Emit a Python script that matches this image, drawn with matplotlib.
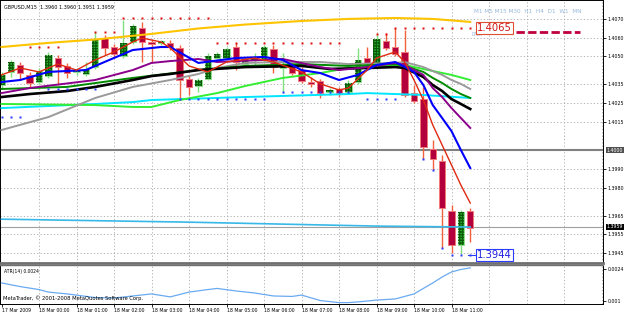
import os
import matplotlib
matplotlib.use('Agg')
import matplotlib.pyplot as plt
import matplotlib.transforms as mtransforms
from matplotlib import font_manager as fm

plt.rcParams['font.family'] = ['Liberation Sans', 'DejaVu Sans']
plt.rcParams['hatch.linewidth'] = 0.9

# ---------------- data (GBPUSD M15) ----------------
opens = [1.40347, 1.40417, 1.40454, 1.40401, 1.40363, 1.40395, 1.40491, 1.40449, 1.40417, 1.40406,
         1.40443, 1.40598, 1.40550, 1.40502, 1.40577, 1.40652, 1.40577, 1.40572, 1.40572, 1.40545,
         1.40379, 1.40342, 1.40379, 1.40491, 1.40491, 1.40550, 1.40459, 1.40481, 1.40481, 1.40540,
         1.40438, 1.40454, 1.40427, 1.40363, 1.40369, 1.40310, 1.40326, 1.40310, 1.40363, 1.40491,
         1.40465, 1.40582, 1.40550, 1.40524, 1.40304, 1.40272, 1.40005, 1.39941, 1.39674, 1.39492,
         1.39674]
highs = [1.40417, 1.40481, 1.40470, 1.40417, 1.40438, 1.40524, 1.40507, 1.40465, 1.40438, 1.40470,
         1.40630, 1.40614, 1.40566, 1.40694, 1.40673, 1.40684, 1.40588, 1.40588, 1.40588, 1.40561,
         1.40401, 1.40385, 1.40518, 1.40524, 1.40550, 1.40572, 1.40497, 1.40518, 1.40561, 1.40561,
         1.40518, 1.40470, 1.40443, 1.40390, 1.40379, 1.40331, 1.40337, 1.40374, 1.40545, 1.40550,
         1.40614, 1.40625, 1.40652, 1.40641, 1.40347, 1.40337, 1.40053, 1.39973, 1.39706, 1.39679,
         1.39690]
lows = [1.40331, 1.40390, 1.40374, 1.40331, 1.40353, 1.40385, 1.40347, 1.40385, 1.40401, 1.40395,
        1.40433, 1.40507, 1.40491, 1.40491, 1.40566, 1.40470, 1.40470, 1.40561, 1.40534, 1.40267,
        1.40294, 1.40310, 1.40374, 1.40481, 1.40481, 1.40427, 1.40449, 1.40443, 1.40470, 1.40411,
        1.40304, 1.40401, 1.40358, 1.40337, 1.40278, 1.40294, 1.40283, 1.40299, 1.40353, 1.40454,
        1.40454, 1.40534, 1.40502, 1.40283, 1.40251, 1.39952, 1.39893, 1.39476, 1.39450, 1.39444,
        1.39509]
closes = [1.40401, 1.40470, 1.40411, 1.40358, 1.40422, 1.40507, 1.40443, 1.40411, 1.40422, 1.40433,
          1.40593, 1.40545, 1.40513, 1.40572, 1.40662, 1.40577, 1.40566, 1.40582, 1.40550, 1.40374,
          1.40337, 1.40374, 1.40502, 1.40513, 1.40540, 1.40470, 1.40486, 1.40497, 1.40550, 1.40443,
          1.40454, 1.40411, 1.40369, 1.40353, 1.40304, 1.40321, 1.40304, 1.40358, 1.40481, 1.40465,
          1.40593, 1.40545, 1.40513, 1.40294, 1.40262, 1.40016, 1.39952, 1.39690, 1.39492, 1.39669,
          1.39583]

# indicator lines: (bar index, price)
gold_x = [0, 5, 10, 16, 21, 26, 32, 37, 42, 46, 50]
gold_y = [1.40550, 1.40572, 1.40590, 1.40620, 1.40649, 1.40670, 1.40689, 1.40700, 1.40705, 1.40700, 1.40684]

red_x = [0, 2, 4, 6, 8, 10, 12, 14, 15, 17, 18, 20, 22, 24, 27, 29, 32, 34, 36, 37, 39, 40, 42, 43,
         44, 45, 46, 47, 48, 49, 50]
red_y = [1.40401, 1.40438, 1.40417, 1.40459, 1.40427, 1.40481, 1.40524, 1.40577, 1.40598, 1.40577,
         1.40545, 1.40449, 1.40417, 1.40470, 1.40491, 1.40470, 1.40417, 1.40353, 1.40321, 1.40331,
         1.40427, 1.40491, 1.40524, 1.40470, 1.40374, 1.40267, 1.40134, 1.40027, 1.39920, 1.39813,
         1.39717]

blue_x = [0, 2, 5, 9, 10, 14, 17, 18, 21, 25, 28, 30, 32, 34, 36, 38, 40, 42, 44, 45, 46, 47, 48, 49, 50]
blue_y = [1.40363, 1.40374, 1.40417, 1.40427, 1.40449, 1.40534, 1.40550, 1.40550, 1.40465, 1.40491,
          1.40497, 1.40481, 1.40427, 1.40411, 1.40374, 1.40401, 1.40454, 1.40470, 1.40417, 1.40347,
          1.40240, 1.40171, 1.40101, 1.40000, 1.39904]

purple_x = [0, 3, 10, 14, 16, 18, 21, 23, 30, 34, 36, 39, 42, 43, 45, 46, 47, 48, 49, 50]
purple_y = [1.40304, 1.40331, 1.40374, 1.40427, 1.40465, 1.40475, 1.40486, 1.40470, 1.40486, 1.40443,
            1.40427, 1.40443, 1.40465, 1.40454, 1.40401, 1.40331, 1.40283, 1.40224, 1.40171, 1.40118]

black_x = [0, 3, 7, 10, 14, 16, 18, 21, 26, 32, 35, 39, 42, 43, 45, 46, 47, 48, 49, 50]
black_y = [1.40283, 1.40299, 1.40315, 1.40337, 1.40374, 1.40395, 1.40406, 1.40427, 1.40443, 1.40449,
           1.40433, 1.40438, 1.40443, 1.40438, 1.40390, 1.40347, 1.40315, 1.40272, 1.40246, 1.40219]

dgreen_x = [0, 7, 14, 21, 26, 32, 37, 42, 43, 45, 46, 47, 48, 49, 50]
dgreen_y = [1.40326, 1.40337, 1.40385, 1.40427, 1.40449, 1.40459, 1.40449, 1.40459, 1.40449, 1.40417,
            1.40385, 1.40358, 1.40326, 1.40299, 1.40278]

grey_x = [0, 5, 10, 14, 18, 21, 23, 26, 30, 34, 37, 42, 43, 45, 46, 47, 48, 49, 50]
grey_y = [1.40107, 1.40176, 1.40278, 1.40337, 1.40374, 1.40406, 1.40438, 1.40465, 1.40470, 1.40470,
          1.40459, 1.40465, 1.40470, 1.40443, 1.40422, 1.40401, 1.40374, 1.40353, 1.40326]

lime_x = [0, 10, 14, 16, 19, 23, 26, 30, 34, 37, 42, 43, 46, 48, 50]
lime_y = [1.40246, 1.40240, 1.40230, 1.40230, 1.40267, 1.40304, 1.40342, 1.40385, 1.40411, 1.40438,
          1.40454, 1.40454, 1.40422, 1.40401, 1.40374]

cyan_x = [0, 10, 14, 16, 26, 37, 39, 45, 50]
cyan_y = [1.40224, 1.40246, 1.40256, 1.40267, 1.40283, 1.40299, 1.40304, 1.40294, 1.40278]

lowcyan_x = [0, 20, 40, 50]
lowcyan_y = [1.39631, 1.39615, 1.39594, 1.39589]

# dotted level rows: (first bar, last bar, price)
red_dot_rows = [(3, 6, 1.40550), (10, 12, 1.40630), (13, 22, 1.40705), (23, 36, 1.40572),
                (40, 41, 1.40620), (42, 50, 1.40650)]
blue_dot_rows = [(0, 2, 1.40176), (5, 10, 1.40326), (19, 28, 1.40272), (30, 37, 1.40310),
                 (39, 42, 1.40272), (45, 45, 1.39952), (46, 46, 1.39893), (47, 47, 1.39476),
                 (48, 50, 1.39440)]

# ATR(14)
atr_x = [0, 2, 4, 5, 7, 10, 12, 16, 18, 20, 22, 23, 25, 27, 29, 31, 32, 34, 36, 37, 38, 39, 40, 42,
         44, 46, 47, 48, 49, 50]
atr_y = [0.00179, 0.00163, 0.00150, 0.00139, 0.00131, 0.00115, 0.00113, 0.00131, 0.00118, 0.00139,
         0.00150, 0.00155, 0.00144, 0.00135, 0.00122, 0.00120, 0.00126, 0.00102, 0.00093, 0.00093,
         0.00096, 0.00100, 0.00104, 0.00109, 0.00131, 0.00179, 0.00205, 0.00227, 0.00238, 0.00245]

price_ticks = [1.4070, 1.4060, 1.4050, 1.4035, 1.4025, 1.4015, 1.3990, 1.3980, 1.3965, 1.3955, 1.3945]
hline_level = 1.4000
bid_level = 1.3959
day_high = 1.4065
day_low = 1.3944
atr_ticks = [0.0024, 0.001]
atr_tick_labels = ['0.0024', '0.001']

time_tick_bars = [0, 4, 8, 12, 16, 20, 24, 28, 32, 36, 40, 44, 48]
time_tick_labels = ['17 Mar 2009', '18 Mar 00:00', '18 Mar 01:00', '18 Mar 02:00', '18 Mar 03:00',
                    '18 Mar 04:00', '18 Mar 05:00', '18 Mar 06:00', '18 Mar 07:00', '18 Mar 08:00',
                    '18 Mar 09:00', '18 Mar 10:00', '18 Mar 11:00']
hour_grid_bars = list(range(4, 65, 4))

title = 'GBPUSD,M15  1.3960 1.3960 1.3951 1.3959'
tf_text = 'M1 M5 M15 M30  H1  H4  D1  W1  MN'

# ---------------- font: prefer a narrow face (MetaTrader uses tight bitmap fonts) ----------------
def pick_narrow():
    prefs = ['liberationsansnarrow-regular', 'dejavusanscondensed.', 'robotocondensed-regular',
             'opensans_condensed-regular', 'opensanscondensed-regular', 'notosans-condensed.',
             'notosanscondensed-regular']
    files = [f.fname for f in fm.fontManager.ttflist]
    for p in prefs:
        for fn in files:
            if os.path.basename(fn).lower().startswith(p):
                return fn
    bad = ('bold', 'italic', 'oblique', 'light', 'medium', 'thin', 'black', 'semi', 'extra')
    for fn in files:
        b = os.path.basename(fn).lower()
        if ('narrow' in b or 'condensed' in b) and not any(k in b for k in bad):
            return fn
    return None

nf = pick_narrow()
if nf:
    FP = fm.FontProperties(fname=nf)
else:
    FP = fm.FontProperties(family=['Liberation Sans', 'DejaVu Sans'])

# ---------------- figure ----------------
W, H = 625, 314
fig = plt.figure(figsize=(W / 100, H / 100), dpi=100)
fig.patch.set_facecolor('white')
renderer = fig.canvas.get_renderer()


def fit_size(text, target_px, fp=FP):
    t = fig.text(0, 0, text, fontproperties=fp, fontsize=10)
    w = t.get_window_extent(renderer).width
    t.remove()
    return 10.0 * target_px / w


s_price = fit_size('1.4070', 16.6)
s_time = fit_size('18 Mar 00:00', 31.0)
s_title = fit_size(title, 109.0)
s_atr = fit_size('ATR(14) 0.0024', 35.0)
s_copy = fit_size('MetaTrader, \u00a9 2001-2008 MetaQuotes Software Corp.', 141.0)
s_big = fit_size('1.4065', 35.0)
s_tf = fit_size(tf_text, 108.0)

ax = fig.add_axes([0, 1 - 263 / H, 603 / W, 263 / H])
ax2 = fig.add_axes([0, 1 - 304 / H, 603 / W, 39 / H])

xlim = (-0.16, 64.16)
for a in (ax, ax2):
    a.set_xlim(*xlim)
    a.set_facecolor('white')
    for sp in a.spines.values():
        sp.set_color('#000000')
        sp.set_linewidth(0.7)
    for gx in hour_grid_bars:
        a.axvline(gx, color='#a8a8a8', lw=0.6, ls=(0, (1.5, 2.5)), zorder=0.5)

ax.set_ylim(1.39397, 1.40801)
ax2.set_ylim(0.000869, 0.002575)
ax.spines['bottom'].set_color('#707070')
ax.spines['bottom'].set_linewidth(2.0)
ax2.spines['top'].set_color('#707070')
ax2.spines['top'].set_linewidth(1.0)

# price axis
ax.yaxis.tick_right()
ax.set_yticks(price_ticks)
ax.set_yticklabels(['%.4f' % p for p in price_ticks], fontproperties=FP, fontsize=s_price)
ax.tick_params(axis='y', which='both', direction='out', length=2, width=0.6, pad=1.5,
               colors='#000000')
ax.tick_params(axis='x', which='both', bottom=False, labelbottom=False)
ax.yaxis.grid(True, color='#a8a8a8', lw=0.6, ls=(0, (1.5, 2.5)), zorder=0.5)
ax.set_axisbelow(True)

ax2.yaxis.tick_right()
ax2.set_yticks(atr_ticks)
ax2.set_yticklabels(atr_tick_labels, fontproperties=FP, fontsize=s_price)
ax2.tick_params(axis='y', direction='out', length=2, width=0.6, pad=1.5)
ax2.set_xticks(time_tick_bars)
ax2.set_xticklabels(time_tick_labels, fontproperties=FP, fontsize=s_time, ha='left')
ax2.tick_params(axis='x', direction='out', length=2, width=0.6, pad=1.0)

# horizontal lines
ax.axhline(hline_level, color='#808080', lw=1.5, zorder=1)
ax.axhline(bid_level, color='#a0a0a0', lw=0.8, zorder=1)

# candles
body_w = 0.68
for i in range(len(opens)):
    o, h, l, c = opens[i], highs[i], lows[i], closes[i]
    up = c >= o
    wick_col = '#7ee07e' if up else '#f2603c'
    ax.vlines(i, l, h, color=wick_col, lw=1.0, zorder=2)
    bottom = min(o, c)
    height = max(abs(c - o), 0.00003)
    if up:
        ax.bar(i, height, bottom=bottom, width=body_w, facecolor='#2fb52f',
               edgecolor='#8fe08f', linewidth=0.7, zorder=2.1)
        ax.bar(i, height, bottom=bottom, width=body_w, facecolor='none',
               edgecolor='#0a5a0a', hatch='++++++', linewidth=0, zorder=2.2)
    else:
        ax.bar(i, height, bottom=bottom, width=body_w, facecolor='#b3003c',
               edgecolor='#f07878', linewidth=0.7, zorder=2.1)

# indicator lines
ax.plot(lowcyan_x, lowcyan_y, color='#38b8e8', lw=1.2, zorder=3)
ax.plot(gold_x, gold_y, color='#ffc400', lw=1.5, zorder=3)
ax.plot(cyan_x, cyan_y, color='#00e5ff', lw=1.4, zorder=3)
ax.plot(lime_x, lime_y, color='#33ee33', lw=1.4, zorder=3)
ax.plot(grey_x, grey_y, color='#9a9a9a', lw=1.4, zorder=3)
ax.plot(dgreen_x, dgreen_y, color='#008a00', lw=1.4, zorder=3)
ax.plot(black_x, black_y, color='#000000', lw=1.9, zorder=3)
ax.plot(purple_x, purple_y, color='#8b008b', lw=1.4, zorder=3)
ax.plot(blue_x, blue_y, color='#0000ff', lw=1.5, zorder=3)
ax.plot(red_x, red_y, color='#e02a10', lw=1.0, zorder=3)

# dotted levels
for b0, b1, lv in red_dot_rows:
    xs = list(range(b0, b1 + 1))
    ax.plot(xs, [lv] * len(xs), ls='none', marker='s', ms=1.9, color='#e01010',
            mec='none', zorder=4)
for b0, b1, lv in blue_dot_rows:
    xs = list(range(b0, b1 + 1))
    ax.plot(xs, [lv] * len(xs), ls='none', marker='s', ms=1.9, color='#2a3cff',
            mec='none', zorder=4)

# day high / low labels
ax.text(50.1, 1.40615, 'DAILY', fontproperties=FP, fontsize=s_price * 0.9, color='#8fb0d8',
        ha='left', va='center', zorder=4)
ax.text(50.4, 1.40737, tf_text, fontproperties=FP, fontsize=s_tf, color='#9ab8dc',
        ha='left', va='center', zorder=4)
ax.text(50.75, day_high, '%.4f' % day_high, fontproperties=FP, fontsize=s_big, color='#d01818',
        ha='left', va='center', zorder=6,
        bbox=dict(boxstyle='square,pad=0.1', facecolor='white', edgecolor='#e05030', lw=0.8))
ax.plot([54.9, 61.7], [1.40628, 1.40628], color='#c0003c', lw=2.0, ls=(0, (3, 1.2)), zorder=5)
ax.plot([49.8, 50.7], [day_low, day_low], color='#2a3cff', lw=0.8, zorder=5)
ax.text(50.75, day_low, '%.4f' % day_low, fontproperties=FP, fontsize=s_big, color='#2020e0',
        ha='left', va='center', zorder=6,
        bbox=dict(boxstyle='square,pad=0.1', facecolor='white', edgecolor='#2a3cff', lw=0.8))

# highlighted axis labels
trans = mtransforms.blended_transform_factory(ax.transAxes, ax.transData)
ax.text(1.006, hline_level, '%.4f' % hline_level, transform=trans, fontproperties=FP,
        fontsize=s_price, color='#ffffff', ha='left', va='center', clip_on=False,
        bbox=dict(boxstyle='square,pad=0.15', facecolor='#505050', edgecolor='none'))
ax.text(1.006, bid_level, '%.4f' % bid_level, transform=trans, fontproperties=FP,
        fontsize=s_price, color='#ffffff', ha='left', va='center', clip_on=False,
        bbox=dict(boxstyle='square,pad=0.15', facecolor='#000000', edgecolor='none'))

# ATR window
ax2.plot(atr_x, atr_y, color='#6aaaf0', lw=0.9, zorder=3)

# texts
fig.text(4 / W, 1 - 7 / H, title, fontproperties=FP, fontsize=s_title, color='#000000',
         ha='left', va='center')
fig.text(4 / W, 1 - 272 / H, 'ATR(14) 0.0024', fontproperties=FP, fontsize=s_atr,
         color='#000000', ha='left', va='center')
fig.text(3 / W, 1 - 298 / H, 'MetaTrader, \u00a9 2001-2008 MetaQuotes Software Corp.',
         fontproperties=FP, fontsize=s_copy, color='#000000', ha='left', va='center')

fig.savefig('out.png', dpi=100, facecolor='white')
